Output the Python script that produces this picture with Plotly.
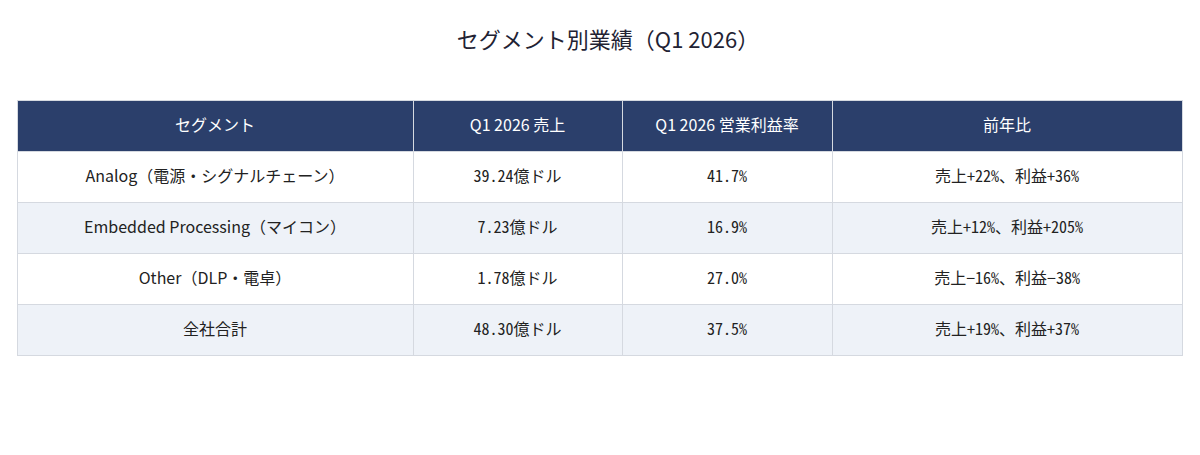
import plotly.graph_objects as go

headers = ["セグメント", "Q1 2026 売上", "Q1 2026 営業利益率", "前年比"]
segments = ["Analog（電源・シグナルチェーン）", "Embedded Processing（マイコン）", "Other（DLP・電卓）", "全社合計"]
revenue = ["39.24億ドル", "7.23億ドル", "1.78億ドル", "48.30億ドル"]
op_margin = ["41.7%", "16.9%", "27.0%", "37.5%"]
yoy = ["売上+22%、利益+36%", "売上+12%、利益+205%", "売上−16%、利益−38%", "売上+19%、利益+37%"]

font_name = "Noto Sans CJK JP"
mono_name = "Noto Sans Mono CJK JP, Noto Sans CJK JP"
row_colors = ["#ffffff", "#eef2f8", "#ffffff", "#eef2f8"]
widths = [396, 209, 210, 350]
blank = [[""] * len(segments)] * 4

# background table: fills and grid lines only
fig = go.Figure(go.Table(
    columnwidth=widths,
    header=dict(values=[""] * 4, fill_color="#2b3f6b", line_color="#d5d9e0", height=51),
    cells=dict(values=blank, fill_color=[row_colors] * 4, line_color="#d5d9e0", height=51),
))

# text table laid on top, nudged down so the text sits in the middle of each row
fig.add_trace(go.Table(
    domain=dict(x=[0, 1], y=[0, 0.971]),
    columnwidth=widths,
    header=dict(
        values=headers,
        fill_color="rgba(0,0,0,0)",
        line_color="rgba(0,0,0,0)",
        font=dict(color="white", size=16, family=font_name),
        align="center",
        height=51,
    ),
    cells=dict(
        values=[segments, revenue, op_margin, yoy],
        fill_color="rgba(0,0,0,0)",
        line_color="rgba(0,0,0,0)",
        font=dict(color="#222222", size=16, family=[font_name, mono_name, mono_name, mono_name]),
        align="center",
        height=51,
    ),
))

fig.update_layout(
    width=1200, height=455,
    margin=dict(l=9, r=26, t=92, b=0),
    paper_bgcolor="white",
    title=dict(text="セグメント別業績（Q1 2026）", x=0.5, xanchor="center", y=0.93, yanchor="middle",
               font=dict(size=22, color="#222233", family=font_name)),
)

fig.write_html("out.html")
